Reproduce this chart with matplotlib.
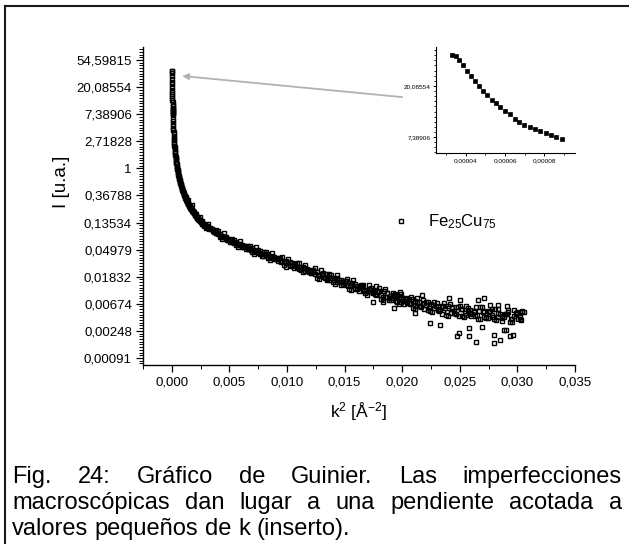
import numpy as np
import matplotlib
matplotlib.use("Agg")
import matplotlib.pyplot as plt
from matplotlib.ticker import FixedLocator, FixedFormatter, NullFormatter
from matplotlib.lines import Line2D
from matplotlib.transforms import IdentityTransform

plt.rcParams['font.family'] = ['Liberation Sans', 'DejaVu Sans']
plt.rcParams['mathtext.fontset'] = 'custom'
plt.rcParams['mathtext.rm'] = 'Liberation Sans'
plt.rcParams['mathtext.it'] = 'Liberation Sans:italic'
plt.rcParams['mathtext.bf'] = 'Liberation Sans:bold'

# ---------------- data (k^2 in 1/A^2, ln I) ----------------
inset_k2 = [0.0000329, 0.0000351, 0.0000368, 0.0000388, 0.0000407, 0.0000427, 0.0000447,
            0.0000468, 0.0000488, 0.0000508, 0.0000532, 0.0000554, 0.0000575, 0.0000600,
            0.0000625, 0.0000651, 0.0000673, 0.0000698, 0.0000725, 0.0000751, 0.0000780,
            0.0000807, 0.0000834, 0.0000861, 0.0000892]
inset_lnI = [3.604, 3.584, 3.506, 3.409, 3.299, 3.201, 3.097, 3.000, 2.909, 2.825, 2.727,
             2.669, 2.584, 2.513, 2.448, 2.357, 2.299, 2.240, 2.195, 2.156, 2.110, 2.071,
             2.032, 1.994, 1.961]

main_k2 = [0.0001000, 0.0001166, 0.0001346, 0.0001538, 0.0001742, 0.0001960, 0.0002190, 0.0002434, 0.0002690, 0.0002958,
           0.0003240, 0.0003534, 0.0003842, 0.0004162, 0.0004494, 0.0004840, 0.0005198, 0.0005570, 0.0005954, 0.0006350,
           0.0006760, 0.0007182, 0.0007618, 0.0008066, 0.0008526, 0.0009000, 0.0009486, 0.0009986, 0.0010498, 0.0011022,
           0.0011560, 0.0012110, 0.0012674, 0.0013250, 0.0013838, 0.0014440, 0.0015054, 0.0015682, 0.0016322, 0.0016974,
           0.0017640, 0.0018318, 0.0019010, 0.0019714, 0.0020430, 0.0021160, 0.0021902, 0.0022658, 0.0023426, 0.0024206,
           0.0025000, 0.0025806, 0.0026626, 0.0027458, 0.0028302, 0.0029160, 0.0030030, 0.0030914, 0.0031810, 0.0032718,
           0.0033640, 0.0034574, 0.0035522, 0.0036482, 0.0037454, 0.0038440, 0.0039438, 0.0040450, 0.0041474, 0.0042510,
           0.0043560, 0.0044622, 0.0045698, 0.0046786, 0.0047886, 0.0049000, 0.0050126, 0.0051266, 0.0052418, 0.0053582,
           0.0054760, 0.0055950, 0.0057154, 0.0058370, 0.0059600, 0.0060840, 0.0062094, 0.0063360, 0.0064640, 0.0065934,
           0.0067240, 0.0068560, 0.0069890, 0.0071234, 0.0072590, 0.0073960, 0.0075340, 0.0076738, 0.0078146, 0.0079566,
           0.0081000, 0.0082446, 0.0083906, 0.0085378, 0.0086862, 0.0088360, 0.0089870, 0.0091394, 0.0092930, 0.0094478,
           0.0096040, 0.0097614, 0.0099200, 0.0100800, 0.0102410, 0.0104040, 0.0105680, 0.0107330, 0.0108990, 0.0110670,
           0.0112360, 0.0114060, 0.0115780, 0.0117510, 0.0119250, 0.0121000, 0.0122770, 0.0124550, 0.0126340, 0.0128140,
           0.0129960, 0.0131790, 0.0133630, 0.0135490, 0.0137360, 0.0139240, 0.0141130, 0.0143040, 0.0144960, 0.0146890,
           0.0148840, 0.0150800, 0.0152770, 0.0154750, 0.0156750, 0.0158760, 0.0160780, 0.0162820, 0.0164870, 0.0166930,
           0.0169000, 0.0171090, 0.0173190, 0.0175300, 0.0177420, 0.0179560, 0.0181710, 0.0183870, 0.0186050, 0.0188240,
           0.0190440, 0.0192650, 0.0194880, 0.0197120, 0.0199370, 0.0201640, 0.0203920, 0.0206210, 0.0208510, 0.0210830,
           0.0213160, 0.0215500, 0.0217860, 0.0220230, 0.0222610, 0.0225000, 0.0227410, 0.0229830, 0.0232260, 0.0234700,
           0.0237160, 0.0239630, 0.0242110, 0.0244610, 0.0247120, 0.0249640, 0.0252170, 0.0254720, 0.0257280, 0.0259850,
           0.0262440, 0.0265040, 0.0267650, 0.0270270, 0.0272910, 0.0275560, 0.0278220, 0.0280900, 0.0283590, 0.0286290,
           0.0289000, 0.0291730, 0.0294470, 0.0297220, 0.0299980, 0.0302760, 0.0305550]
main_lnI = [1.83, 1.65, 1.47, 1.33, 1.16, 1.04, 0.89, 0.79, 0.65, 0.56,
            0.43, 0.35, 0.23, 0.16, 0.05, -0.02, -0.12, -0.19, -0.28, -0.34,
            -0.43, -0.49, -0.57, -0.62, -0.71, -0.75, -0.83, -0.87, -0.95, -0.99,
            -1.07, -1.10, -1.17, -1.21, -1.28, -1.31, -1.38, -1.40, -1.47, -1.50,
            -1.56, -1.59, -1.65, -1.67, -1.74, -1.76, -1.82, -1.84, -1.90, -1.92,
            -1.97, -1.99, -2.05, -2.05, -2.11, -2.10, -2.14, -2.14, -2.21, -2.25,
            -2.24, -2.25, -2.31, -2.32, -2.32, -2.40, -2.38, -2.44, -2.42, -2.50,
            -2.50, -2.54, -2.52, -2.57, -2.64, -2.60, -2.66, -2.63, -2.72, -2.77,
            -2.74, -2.73, -2.82, -2.82, -2.80, -2.91, -2.86, -2.91, -2.87, -2.98,
            -2.96, -3.01, -2.95, -3.02, -3.10, -3.04, -3.11, -3.06, -3.17, -3.22,
            -3.17, -3.16, -3.27, -3.26, -3.24, -3.36, -3.30, -3.36, -3.32, -3.44,
            -3.42, -3.47, -3.41, -3.48, -3.59, -3.51, -3.59, -3.53, -3.66, -3.72,
            -3.66, -3.65, -3.78, -3.76, -3.74, -3.88, -3.80, -3.89, -3.82, -3.98,
            -3.94, -4.00, -3.90, -4.01, -4.12, -4.03, -4.12, -4.03, -4.20, -4.29,
            -4.18, -4.16, -4.33, -4.29, -4.25, -4.45, -4.33, -4.43, -4.33, -4.54,
            -4.48, -4.55, -4.40, -4.53, -4.69, -4.54, -4.66, -4.53, -4.75, -4.86,
            -4.70, -4.66, -4.88, -4.83, -4.75, -5.02, -4.83, -4.96, -4.81, -5.08,
            -4.98, -5.07, -4.87, -5.03, -5.22, -5.02, -5.15, -4.98, -5.25, -5.36,
            -5.14, -5.08, -5.33, -5.25, -5.13, -5.44, -5.21, -5.34, -5.14, -5.45,
            -5.31, -5.41, -5.13, -5.32, -5.52, -5.27, -5.41, -5.20, -5.50, -5.62,
            -5.36, -5.29, -5.55, -5.45, -5.31, -5.60, -5.31]

mid_k2 = [0.000108, 0.000126, 0.000144, 0.000164, 0.000185, 0.000207, 0.000231, 0.000256, 0.000282, 0.000310,
          0.000339, 0.000369, 0.000400, 0.000433, 0.000467, 0.000502, 0.000538, 0.000576, 0.000615, 0.000655,
          0.000697, 0.000740, 0.000784, 0.000830, 0.000876, 0.000924, 0.000974, 0.001024, 0.001076, 0.001129,
          0.001183, 0.001239, 0.001296, 0.001355, 0.001414, 0.001475, 0.001537, 0.001600, 0.001665, 0.001731,
          0.001798, 0.001866, 0.001936, 0.002007, 0.002080, 0.002153, 0.002228, 0.002304, 0.002381, 0.002460,
          0.002540, 0.002622, 0.002704, 0.002788, 0.002873, 0.002960, 0.003047, 0.003136,
          0.0032, 0.0038, 0.0044, 0.0049, 0.0053, 0.0058, 0.0062, 0.0066, 0.0071, 0.0075,
          0.0079, 0.0083, 0.0087, 0.0091, 0.0095, 0.0099, 0.0103, 0.0107, 0.0111, 0.0115,
          0.0119, 0.0123, 0.0127, 0.0131, 0.0135, 0.0139, 0.0143, 0.0147, 0.0151, 0.0155,
          0.0159, 0.0163, 0.0167, 0.0171, 0.0175, 0.0179, 0.0183, 0.0187, 0.0191, 0.0195,
          0.0199, 0.0203, 0.0207, 0.0211, 0.0215, 0.0219, 0.0223, 0.0227, 0.0231, 0.0235,
          0.0239, 0.0243, 0.0247, 0.0251, 0.0255, 0.0259, 0.0263, 0.0267, 0.0271, 0.0275,
          0.0279, 0.0283, 0.0287, 0.0291, 0.0295, 0.0299, 0.0302, 0.0304]
mid_lnI = [1.74, 1.56, 1.40, 1.25, 1.10, 0.96, 0.84, 0.72, 0.61, 0.49,
           0.39, 0.29, 0.20, 0.10, 0.02, -0.07, -0.15, -0.24, -0.31, -0.39,
           -0.46, -0.53, -0.60, -0.66, -0.73, -0.79, -0.85, -0.91, -0.97, -1.03,
           -1.09, -1.14, -1.19, -1.25, -1.30, -1.35, -1.39, -1.44, -1.49, -1.53,
           -1.58, -1.62, -1.66, -1.71, -1.75, -1.79, -1.83, -1.87, -1.91, -1.95,
           -1.98, -2.02, -2.05, -2.08, -2.10, -2.14, -2.16, -2.19,
           -2.21, -2.37, -2.53, -2.60, -2.73, -2.79, -2.90, -2.93, -3.04, -3.07,
           -3.18, -3.20, -3.31, -3.33, -3.43, -3.45, -3.57, -3.56, -3.70, -3.68,
           -3.82, -3.81, -3.93, -3.92, -4.08, -4.04, -4.19, -4.14, -4.30, -4.24,
           -4.42, -4.36, -4.52, -4.44, -4.62, -4.55, -4.74, -4.62, -4.80, -4.71,
           -4.93, -4.80, -5.01, -4.88, -5.09, -4.96, -5.16, -5.03, -5.24, -5.10,
           -5.30, -5.15, -5.36, -5.19, -5.41, -5.23, -5.46, -5.26, -5.48, -5.30,
           -5.50, -5.33, -5.53, -5.36, -5.55, -5.38, -5.50, -5.28]

band_k2 = [0.0012, 0.00155, 0.0019, 0.00225, 0.0026, 0.00295, 0.0033, 0.00365, 0.0040, 0.00435,
           0.0047, 0.00505, 0.0054, 0.00575, 0.0061, 0.00645, 0.0068, 0.00715, 0.0075, 0.00785,
           0.0082, 0.00855, 0.0089, 0.00925, 0.0096, 0.00995, 0.0103, 0.01065, 0.0110, 0.01135,
           0.0117, 0.01205, 0.0124, 0.01275, 0.0131, 0.01345, 0.0138, 0.01415, 0.0145, 0.01485,
           0.0152, 0.01555, 0.0159, 0.01625, 0.0166, 0.01695, 0.0173, 0.01765, 0.0180, 0.01835,
           0.0187, 0.01905, 0.0194, 0.01975, 0.0201, 0.02045, 0.0208, 0.02115, 0.0215, 0.02185,
           0.0222, 0.02255, 0.0229, 0.02325, 0.0236, 0.02395, 0.0243, 0.02465, 0.0250, 0.02535,
           0.0257, 0.02605, 0.0264, 0.02675, 0.0271, 0.02745, 0.0278, 0.02815, 0.0285, 0.02885,
           0.0292, 0.02955, 0.0299, 0.03025]
band_lnI = [-1.04, -1.46, -1.60, -1.88, -1.95, -2.20, -2.21, -2.35, -2.32, -2.60,
            -2.53, -2.73, -2.64, -2.90, -2.84, -2.96, -2.86, -3.17, -3.03, -3.23,
            -3.10, -3.39, -3.28, -3.42, -3.27, -3.63, -3.46, -3.69, -3.51, -3.84,
            -3.72, -3.86, -3.69, -4.08, -3.88, -4.12, -3.92, -4.27, -4.12, -4.26,
            -4.08, -4.49, -4.26, -4.51, -4.29, -4.66, -4.49, -4.64, -4.42, -4.86,
            -4.60, -4.86, -4.63, -5.01, -4.83, -4.97, -4.74, -5.19, -4.92, -5.18,
            -4.92, -5.30, -5.10, -5.24, -4.97, -5.44, -5.13, -5.39, -5.10, -5.49,
            -5.27, -5.39, -5.12, -5.57, -5.25, -5.51, -5.21, -5.60, -5.38, -5.50,
            -5.22, -5.67, -5.33, -5.55]

band2_k2 = [0.001375, 0.001725, 0.002075, 0.002425, 0.002775, 0.003125, 0.003475, 0.003825, 0.004175, 0.004525,
            0.004875, 0.005225, 0.005575, 0.005925, 0.006275, 0.006625, 0.006975, 0.007325, 0.007675, 0.008025,
            0.008375, 0.008725, 0.009075, 0.009425, 0.009775, 0.010125, 0.010475, 0.010825, 0.011175, 0.011525,
            0.011875, 0.012225, 0.012575, 0.012925, 0.013275, 0.013625, 0.013975, 0.014325, 0.014675, 0.015025,
            0.015375, 0.015725, 0.016075, 0.016425, 0.016775, 0.017125, 0.017475, 0.017825, 0.018175, 0.018525,
            0.018875, 0.019225, 0.019575, 0.019925, 0.020275, 0.020625, 0.020975, 0.021325, 0.021675, 0.022025,
            0.022375, 0.022725, 0.023075, 0.023425, 0.023775, 0.024125, 0.024475, 0.024825, 0.025175, 0.025525,
            0.025875, 0.026225, 0.026575, 0.026925, 0.027275, 0.027625, 0.027975, 0.028325, 0.028675, 0.029025,
            0.029375, 0.029725, 0.030075, 0.030425]
band2_lnI = [-1.16, -1.34, -1.68, -1.80, -2.07, -2.06, -2.25, -2.29, -2.52, -2.40,
             -2.63, -2.59, -2.82, -2.70, -2.88, -2.88, -3.10, -2.91, -3.15, -3.07,
             -3.32, -3.13, -3.34, -3.32, -3.57, -3.33, -3.62, -3.49, -3.77, -3.56,
             -3.78, -3.76, -4.03, -3.74, -4.04, -3.90, -4.20, -3.95, -4.20, -4.16,
             -4.44, -4.13, -4.44, -4.29, -4.59, -4.32, -4.57, -4.52, -4.82, -4.46,
             -4.80, -4.62, -4.95, -4.65, -4.91, -4.85, -5.16, -4.77, -5.12, -4.92,
             -5.26, -4.92, -5.18, -5.10, -5.41, -5.00, -5.35, -5.13, -5.46, -5.09,
             -5.35, -5.25, -5.56, -5.13, -5.47, -5.25, -5.57, -5.20, -5.46, -5.36,
             -5.66, -5.23, -5.55, -5.29]

outlier_k2 = [0.0224, 0.0233, 0.0249, 0.0248, 0.0258, 0.0258, 0.0264, 0.0280, 0.0280, 0.0285,
              0.0294, 0.0296, 0.0288, 0.0290, 0.0269, 0.0175, 0.0183, 0.0193, 0.0211,
              0.0241, 0.0250, 0.0266, 0.0271, 0.0291, 0.0283, 0.0276, 0.0217, 0.0198, 0.0177]
outlier_lnI = [-5.72, -5.78, -6.09, -6.19, -6.19, -5.90, -6.40, -6.15, -6.43, -6.34,
               -6.19, -6.15, -5.97, -5.95, -5.84, -4.92, -4.92, -5.17, -5.33,
               -4.80, -4.86, -4.86, -4.80, -5.08, -5.04, -5.04, -4.67, -4.55, -4.34]

y_tick_exponents = [-7, -6, -5, -4, -3, -2, -1, 0, 1, 2, 3, 4]
y_tick_labels = ['0,00091', '0,00248', '0,00674', '0,01832', '0,04979', '0,13534',
                 '0,36788', '1', '2,71828', '7,38906', '20,08554', '54,59815']
x_ticks = [0.000, 0.005, 0.010, 0.015, 0.020, 0.025, 0.030, 0.035]
x_tick_labels = ['0,000', '0,005', '0,010', '0,015', '0,020', '0,025', '0,030', '0,035']
inset_x_ticks = [0.00004, 0.00006, 0.00008]
inset_x_labels = ['0,00004', '0,00006', '0,00008']
inset_y_exponents = [2, 3]
inset_y_labels = ['7,38906', '20,08554']
legend_label = r'Fe$_{\mathrm{25}}$Cu$_{\mathrm{75}}$'
x_label = r'k$^{\mathrm{2}}$ [Å$^{\mathrm{-2}}$]'
y_label = 'I [u.a.]'
caption_lines = ["Fig. 24: Gráfico de Guinier. Las imperfecciones",
                 "macroscópicas dan lugar a una pendiente acotada a",
                 "valores pequeños de k (inserto)."]

# ---------------- figure ----------------
W, H = 629, 544
fig = plt.figure(figsize=(W / 100, H / 100), dpi=100)
fig.patch.set_facecolor('white')

ax = fig.add_axes([143 / W, 1 - 365 / H, 432 / W, 318 / H])
k2_all = np.concatenate([inset_k2, main_k2, mid_k2, band_k2, band2_k2, outlier_k2])
I_all = np.exp(np.concatenate([inset_lnI, main_lnI, mid_lnI, band_lnI, band2_lnI, outlier_lnI]))
ax.plot(k2_all, I_all, ls='none', marker='s', ms=3.4, mfc='none', mec='black',
        mew=1.0, label=legend_label)
ax.set_yscale('log', base=np.e)
ax.set_xlim(-0.0025, 0.035)
ax.set_ylim(np.exp(-7.26), np.exp(4.48))
for s in ['top', 'right']:
    ax.spines[s].set_visible(False)
for s in ['left', 'bottom']:
    ax.spines[s].set_linewidth(1.0)
ax.yaxis.set_major_locator(FixedLocator(np.exp(y_tick_exponents)))
ax.yaxis.set_major_formatter(FixedFormatter(y_tick_labels))
ax.yaxis.set_minor_locator(FixedLocator(np.exp(np.arange(-7.2, 4.45, 0.1))))
ax.yaxis.set_minor_formatter(NullFormatter())
ax.set_xticks(x_ticks)
ax.set_xticklabels(x_tick_labels)
ax.set_xticks(np.arange(-0.0025, 0.0351, 0.005), minor=True)
ax.tick_params(axis='both', which='major', labelsize=9.5, direction='out', length=5, width=0.9, pad=3)
ax.tick_params(axis='both', which='minor', direction='out', length=3, width=0.7)
ax.set_xlabel(x_label, fontsize=12.5, labelpad=9)
ax.set_ylabel(y_label, fontsize=13.5)
ax.yaxis.set_label_coords(-0.168, 0.575)

leg = ax.legend(loc='center left', bbox_to_anchor=(393, H - 222), bbox_transform=IdentityTransform(),
                frameon=False, handlelength=1.0, handletextpad=1.1, borderpad=0, borderaxespad=0,
                fontsize=12, numpoints=1)

# arrow from inset to the low-k data
ax.annotate('', xy=(0.0009, np.exp(3.41)), xytext=(0.0200, np.exp(2.63)),
            arrowprops=dict(arrowstyle='-|>', color='#b2b2b2', lw=1.3, mutation_scale=9,
                            shrinkA=0, shrinkB=0))

# ---------------- inset ----------------
axi = fig.add_axes([436 / W, 1 - 153 / H, 139 / W, 106 / H])
axi.patch.set_alpha(0)
axi.plot(inset_k2, np.exp(inset_lnI), ls='none', marker='s', ms=3.2, mfc='black', mec='black', mew=0.5)
axi.set_yscale('log', base=np.e)
axi.set_xlim(0.0000249, 0.0000956)
axi.set_ylim(np.exp(1.69), np.exp(3.76))
for s in ['top', 'right']:
    axi.spines[s].set_visible(False)
for s in ['left', 'bottom']:
    axi.spines[s].set_linewidth(0.8)
axi.yaxis.set_major_locator(FixedLocator(np.exp(inset_y_exponents)))
axi.yaxis.set_major_formatter(FixedFormatter(inset_y_labels))
axi.yaxis.set_minor_locator(FixedLocator(np.exp(np.arange(1.7, 3.76, 0.1))))
axi.yaxis.set_minor_formatter(NullFormatter())
axi.set_xticks(inset_x_ticks)
axi.set_xticklabels(inset_x_labels)
axi.set_xticks([0.00003, 0.00005, 0.00007, 0.00009], minor=True)
axi.tick_params(axis='both', which='major', labelsize=4.6, direction='out', length=2.5, width=0.7, pad=1.5)
axi.tick_params(axis='both', which='minor', direction='out', length=1.5, width=0.6)

# ---------------- caption (justified) ----------------
renderer = fig.canvas.get_renderer()
cap_size = 17
x_left, x_right = 12, 622
baselines = [H - 483, H - 509, H - 535]
for i, line in enumerate(caption_lines):
    words = line.split(' ')
    texts = [fig.text(0, 0, w, fontsize=cap_size, transform=IdentityTransform(),
                      ha='left', va='baseline', color='black') for w in words]
    widths = [t.get_window_extent(renderer=renderer).width for t in texts]
    if i < len(caption_lines) - 1 and len(words) > 1:
        gap = (x_right - x_left - sum(widths)) / (len(words) - 1)
    else:
        sp = fig.text(0, 0, 'a a', fontsize=cap_size, transform=IdentityTransform())
        sp2 = fig.text(0, 0, 'aa', fontsize=cap_size, transform=IdentityTransform())
        gap = sp.get_window_extent(renderer=renderer).width - sp2.get_window_extent(renderer=renderer).width
        sp.remove(); sp2.remove()
    x = x_left
    for t, w in zip(texts, widths):
        t.set_position((x, baselines[i]))
        x += w + gap

# ---------------- page frame ----------------
fig.add_artist(Line2D([4.5 / W, 1.0], [1 - 5.5 / H, 1 - 5.5 / H], transform=fig.transFigure,
                      color='#1a1a1a', lw=1.5, solid_capstyle='projecting'))
fig.add_artist(Line2D([4.5 / W, 4.5 / W], [0.0, 1 - 5.5 / H], transform=fig.transFigure,
                      color='#1a1a1a', lw=1.5, solid_capstyle='projecting'))

fig.savefig('out.png', dpi=100)
